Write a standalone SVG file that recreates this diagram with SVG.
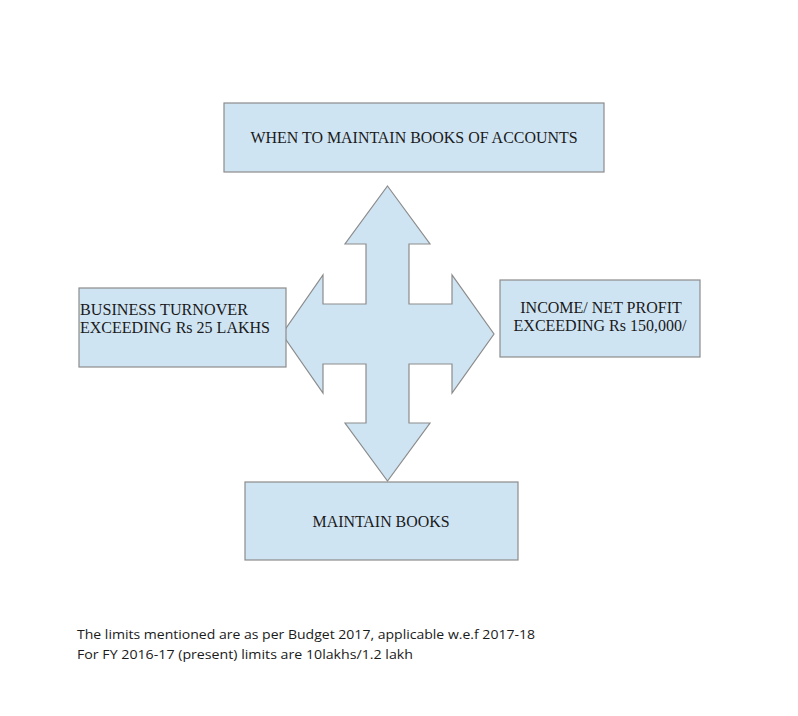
<svg xmlns="http://www.w3.org/2000/svg" width="798" height="716" viewBox="0 0 798 716">
<style>
.box{fill:#cfe4f3;stroke:#8c8c8c;stroke-width:1.2}
.t{font-family:"Liberation Serif","Times New Roman",serif;font-size:16px;fill:#1a1a1a}
.n{font-family:"Open Sans","Liberation Sans",sans-serif;font-size:13.5px;fill:#1a1a1a}
</style>
<rect width="798" height="716" fill="#ffffff"/>
<g id="connectors">
<polygon class="box" points="387.5,186 430,244 409,244 409,304 452,304 452,275 494,334 452,393 452,364 409,364 409,423 430,423 387.5,481 345,423 366,423 366,364 323,364 323,393 282,334 323,275 323,304 366,304 366,244 345,244"/>
</g>
<g id="top">
<rect class="box" x="224" y="103" width="380" height="69"/>
<text class="t" x="414" y="143" text-anchor="middle" textLength="327" lengthAdjust="spacingAndGlyphs">WHEN TO MAINTAIN BOOKS OF ACCOUNTS</text>
</g>
<g id="left">
<rect class="box" x="79" y="288" width="207" height="79"/>
<text class="t" x="80" y="315" textLength="168" lengthAdjust="spacingAndGlyphs">BUSINESS TURNOVER</text>
<text class="t" x="80" y="333" textLength="190" lengthAdjust="spacingAndGlyphs">EXCEEDING Rs 25 LAKHS</text>
</g>
<g id="right">
<rect class="box" x="500" y="280" width="200" height="77"/>
<text class="t" x="601" y="313" text-anchor="middle">INCOME/ NET PROFIT</text>
<text class="t" x="600" y="331" text-anchor="middle">EXCEEDING Rs 150,000/</text>
</g>
<g id="bottom">
<rect class="box" x="245" y="482" width="273" height="78"/>
<text class="t" x="381" y="527" text-anchor="middle" textLength="137" lengthAdjust="spacingAndGlyphs">MAINTAIN BOOKS</text>
</g>
<g id="note">
<text class="n" x="77" y="639" textLength="458" lengthAdjust="spacingAndGlyphs">The limits mentioned are as per Budget 2017, applicable w.e.f 2017-18</text>
<text class="n" x="77" y="659" textLength="336" lengthAdjust="spacingAndGlyphs">For FY 2016-17 (present) limits are 10lakhs/1.2 lakh</text>
</g>
</svg>
